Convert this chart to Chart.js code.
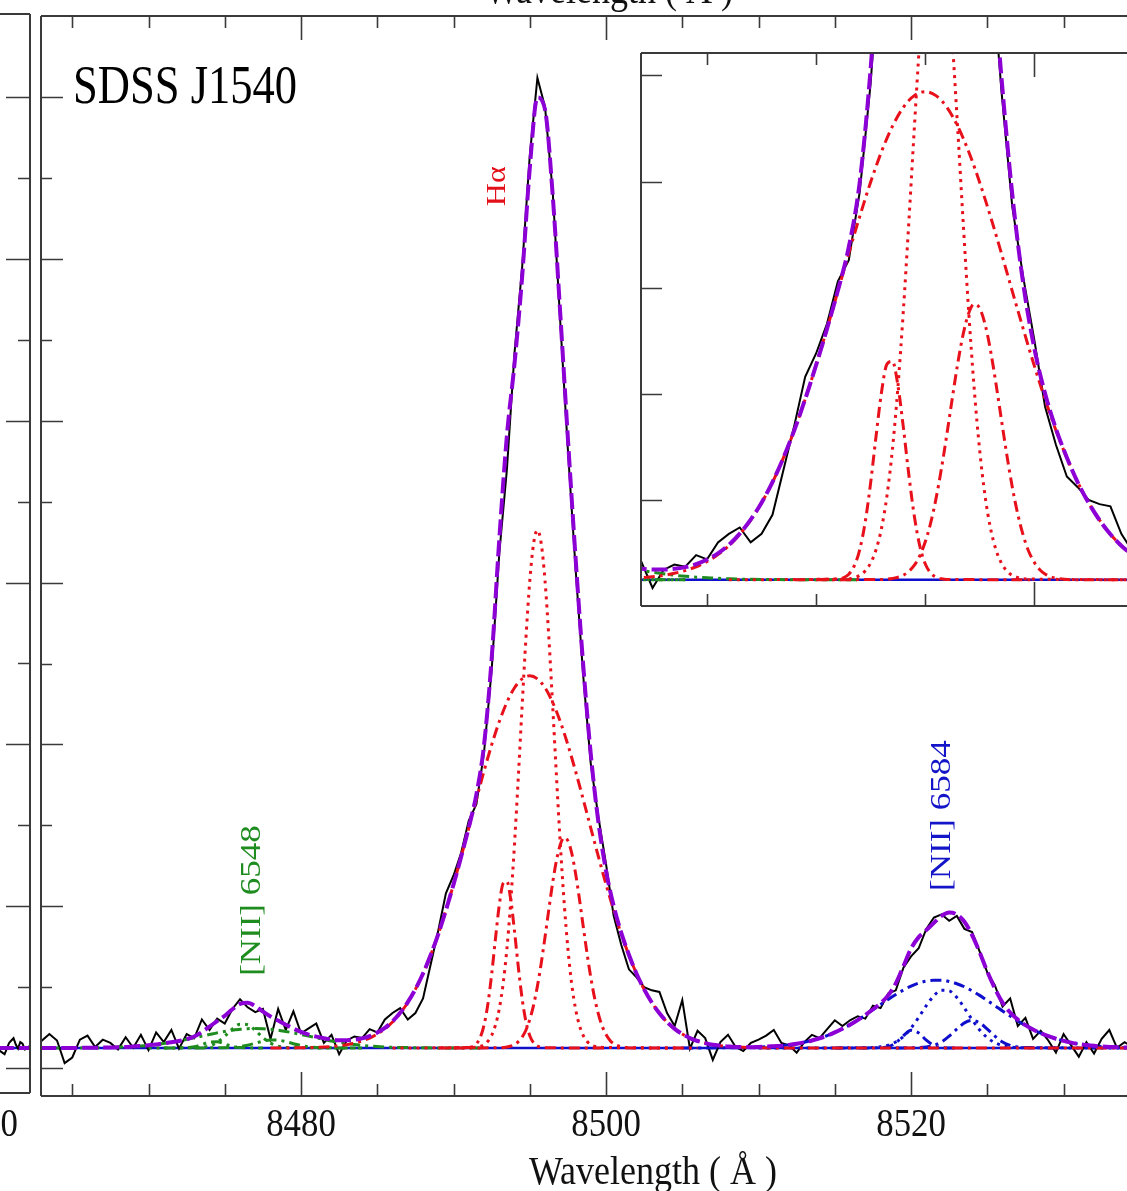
<!DOCTYPE html>
<html>
<head>
<meta charset="utf-8">
<script src="https://cdn.jsdelivr.net/npm/chart.js@4.4.1/dist/chart.umd.min.js"></script>
<style>
  html, body { margin: 0; padding: 0; background: #fff; }
  #wrap { position: relative; width: 1127px; height: 1191px; overflow: hidden; background: #fff; }
  canvas { position: absolute; }
  #side { left: -269px; top: 0; }
  #main { left: 0; top: 0; }
  #inset { left: 639px; top: 51px; background: #fff; }
</style>
</head>
<body>
<div id="wrap">
  <canvas id="side" width="300" height="1191"></canvas>
  <canvas id="main" width="1127" height="1191"></canvas>
  <canvas id="inset" width="488" height="557"></canvas>
</div>
<script>
// observed spectrum + total fit, same wavelength grid
var WAVE = [
  8462.9, 8463.5, 8464.0, 8464.5, 8465.0, 8465.5, 8466.0, 8466.5, 8467.0, 8467.5,
  8468.0, 8468.5, 8469.0, 8469.5, 8470.0, 8470.5, 8471.0, 8471.5, 8472.0, 8472.5,
  8473.0, 8473.5, 8474.0, 8474.5, 8475.0, 8475.5, 8476.0, 8476.5, 8477.0, 8477.5,
  8478.0, 8478.5, 8479.0, 8479.5, 8480.0, 8480.5, 8481.0, 8481.5, 8482.0, 8482.5,
  8483.0, 8483.5, 8484.0, 8484.5, 8485.0, 8485.5, 8486.0, 8486.5, 8487.0, 8487.5,
  8488.0, 8488.5, 8489.0, 8489.5, 8490.0, 8490.5, 8491.0, 8491.5, 8492.0, 8492.5,
  8493.0, 8493.5, 8494.0, 8494.5, 8495.0, 8495.5, 8496.0, 8496.5, 8497.0, 8497.5,
  8498.0, 8498.5, 8499.0, 8499.5, 8500.0, 8500.5, 8501.0, 8501.5, 8502.0, 8502.5,
  8503.0, 8503.5, 8504.0, 8504.5, 8505.0, 8505.5, 8506.0, 8506.5, 8507.0, 8507.5,
  8508.0, 8508.5, 8509.0, 8509.5, 8510.0, 8510.5, 8511.0, 8511.5, 8512.0, 8512.5,
  8513.0, 8513.5, 8514.0, 8514.5, 8515.0, 8515.5, 8516.0, 8516.5, 8517.0, 8517.5,
  8518.0, 8518.5, 8519.0, 8519.5, 8520.0, 8520.5, 8521.0, 8521.5, 8522.0, 8522.5,
  8523.0, 8523.5, 8524.0, 8524.5, 8525.0, 8525.5, 8526.0, 8526.5, 8527.0, 8527.5,
  8528.0, 8528.5, 8529.0, 8529.5, 8530.0, 8530.5, 8531.0, 8531.5, 8532.0, 8532.5,
  8533.0, 8533.5, 8534.0, 8534.5
];
var FLUX_OBS = [
  1.60, 2.10, 1.70, 0.30, 0.65, 1.75, 2.00, 1.30, 1.75, 1.55,
  1.15, 1.90, 1.25, 2.05, 1.10, 2.20, 1.60, 2.35, 1.20, 2.10,
  1.85, 3.00, 2.35, 3.05, 2.75, 3.65, 4.25, 3.75, 3.45, 3.65,
  1.80, 3.65, 2.35, 3.50, 2.15, 2.45, 2.75, 1.55, 2.05, 0.85,
  1.70, 1.95, 1.85, 2.40, 2.20, 3.00, 3.40, 3.70, 3.00, 3.40,
  4.30, 6.40, 8.50, 10.80, 11.90, 13.30, 15.30, 16.30, 19.50, 24.60,
  31.80, 37.00, 44.20, 49.50, 56.40, 61.20, 59.40, 54.20, 46.10, 38.20,
  30.90, 24.30, 18.80, 15.50, 12.60, 9.40, 7.60, 6.10, 5.60, 5.00,
  4.80, 4.70, 3.40, 2.60, 4.20, 1.20, 2.30, 1.85, 0.50, 1.60,
  2.05, 1.30, 1.05, 1.55, 1.75, 2.00, 2.35, 1.55, 1.40, 0.95,
  1.60, 2.05, 1.85, 2.40, 2.95, 2.60, 2.95, 3.20, 3.05, 3.85,
  3.70, 4.60, 4.80, 6.20, 6.90, 7.40, 8.60, 9.30, 9.50, 9.10,
  9.40, 8.60, 8.40, 7.20, 5.90, 5.10, 3.80, 4.30, 2.60, 3.10,
  1.80, 2.30, 1.70, 0.95, 2.10, 1.40, 0.70, 1.60, 0.90, 1.80,
  2.35, 1.25, 1.60, 1.30
];
var FLUX_MODEL = [
  1.24, 1.24, 1.24, 1.24, 1.24, 1.245, 1.25, 1.25, 1.26, 1.27,
  1.28, 1.30, 1.33, 1.36, 1.40, 1.45, 1.52, 1.59, 1.67, 1.78,
  1.95, 2.22, 2.56, 2.90, 3.23, 3.63, 3.96, 4.03, 3.82, 3.49,
  3.18, 2.93, 2.68, 2.44, 2.23, 2.06, 1.94, 1.84, 1.76, 1.72,
  1.72, 1.75, 1.83, 1.97, 2.19, 2.48, 2.88, 3.41, 4.07, 4.87,
  5.84, 6.98, 8.28, 9.75, 11.35, 13.06, 14.87, 16.92, 19.96, 25.30,
  32.67, 39.08, 43.54, 48.92, 55.62, 59.99, 59.23, 53.98, 46.60, 38.90,
  31.57, 24.94, 19.39, 15.19, 12.19, 10.02, 8.35, 7.00, 5.83, 4.86,
  4.05, 3.38, 2.84, 2.42, 2.10, 1.85, 1.67, 1.54, 1.44, 1.38,
  1.33, 1.30, 1.30, 1.29, 1.30, 1.32, 1.35, 1.38, 1.43, 1.50,
  1.59, 1.70, 1.84, 2.00, 2.20, 2.43, 2.68, 2.96, 3.28, 3.63,
  4.00, 4.49, 5.23, 6.29, 7.38, 8.09, 8.52, 8.97, 9.40, 9.61,
  9.49, 9.04, 8.22, 7.15, 5.96, 4.91, 4.04, 3.43, 2.99, 2.65,
  2.38, 2.16, 1.97, 1.81, 1.68, 1.57, 1.48, 1.42, 1.37, 1.33,
  1.30, 1.29, 1.27, 1.26
];
var BASE_WAVE = [8462.9, 8534.5];
var BASE_FLUX = [1.24, 1.24];

// Halpha components
var HA_BROAD_WAVE = [8478.0, 8480.0, 8481.0, 8482.0, 8483.0, 8483.5, 8484.0, 8484.5, 8485.0, 8485.5,
  8486.0, 8486.5, 8487.0, 8487.5, 8488.0, 8488.5, 8489.0, 8489.5, 8490.0, 8490.5,
  8491.0, 8491.5, 8492.0, 8492.5, 8493.0, 8493.5, 8494.0, 8494.5, 8495.0, 8495.5,
  8496.0, 8496.5, 8497.0, 8497.5, 8498.0, 8498.5, 8499.0, 8499.5, 8500.0, 8500.5,
  8501.0, 8501.5, 8502.0, 8502.5, 8503.0, 8503.5, 8504.0, 8504.5, 8505.0, 8505.5,
  8506.0, 8507.0, 8508.0, 8509.0, 8510.0, 8512.0, 8534.5];
var HA_BROAD_FLUX = [1.24, 1.25, 1.28, 1.33, 1.44, 1.54, 1.67, 1.85, 2.10, 2.42,
  2.84, 3.38, 4.05, 4.86, 5.83, 6.98, 8.28, 9.75, 11.35, 13.06,
  14.83, 16.62, 18.35, 19.97, 21.41, 22.60, 23.50, 24.05, 24.24, 24.05,
  23.50, 22.60, 21.41, 19.97, 18.35, 16.62, 14.83, 13.06, 11.35, 9.75,
  8.28, 6.98, 5.83, 4.86, 4.05, 3.38, 2.84, 2.42, 2.10, 1.85,
  1.67, 1.44, 1.33, 1.28, 1.25, 1.24, 1.24];
var HA_NARROW_WAVE = [8486.0, 8491.5, 8491.75, 8492.0, 8492.25, 8492.5, 8492.75, 8493.0, 8493.25, 8493.5,
  8493.75, 8494.0, 8494.25, 8494.5, 8494.75, 8495.0, 8495.25, 8495.5, 8495.75, 8496.0,
  8496.25, 8496.5, 8496.75, 8497.0, 8497.25, 8497.5, 8497.75, 8498.0, 8498.25, 8498.5,
  8498.75, 8499.0, 8499.25, 8499.5, 8505.0];
var HA_NARROW_FLUX = [1.24, 1.28, 1.34, 1.44, 1.65, 2.02, 2.65, 3.66, 5.19, 7.37,
  10.27, 13.87, 18.02, 22.41, 26.60, 30.10, 32.42, 33.24, 32.42, 30.10,
  26.60, 22.41, 18.02, 13.87, 10.27, 7.37, 5.19, 3.66, 2.65, 2.02,
  1.65, 1.44, 1.34, 1.28, 1.24];
var HA_BLUE_WAVE = [8489.0, 8491.0, 8491.25, 8491.5, 8491.75, 8492.0, 8492.25, 8492.5, 8492.75, 8493.0,
  8493.25, 8493.5, 8493.75, 8494.0, 8494.25, 8494.5, 8494.75, 8495.0, 8495.25, 8495.5,
  8495.75, 8496.0, 8500.0];
var HA_BLUE_FLUX = [1.24, 1.27, 1.33, 1.50, 1.89, 2.65, 3.94, 5.79, 8.00, 10.07,
  11.40, 11.53, 10.42, 8.44, 6.22, 4.27, 2.86, 2.00, 1.56, 1.36,
  1.28, 1.25, 1.24];
var HA_RED_WAVE = [8490.0, 8493.0, 8493.5, 8494.0, 8494.25, 8494.5, 8494.75, 8495.0, 8495.25, 8495.5,
  8495.75, 8496.0, 8496.25, 8496.5, 8496.75, 8497.0, 8497.25, 8497.5, 8497.75, 8498.0,
  8498.25, 8498.5, 8498.75, 8499.0, 8499.25, 8499.5, 8499.75, 8500.0, 8500.25, 8500.5,
  8501.0, 8502.0, 8506.0];
var HA_RED_FLUX = [1.24, 1.25, 1.30, 1.45, 1.63, 1.91, 2.35, 3.00, 3.89, 5.06,
  6.48, 8.10, 9.81, 11.45, 12.83, 13.80, 14.23, 14.04, 13.28, 12.04,
  10.48, 8.78, 7.11, 5.60, 4.33, 3.33, 2.58, 2.07, 1.72, 1.51,
  1.31, 1.24, 1.24];

// [NII] 6548 components
var N48_BROAD_WAVE = [8462.9, 8465.0, 8466.0, 8467.0, 8468.0, 8469.0, 8469.5, 8470.0, 8470.5, 8471.0,
  8471.5, 8472.0, 8472.5, 8473.0, 8473.5, 8474.0, 8474.5, 8475.0, 8475.5, 8476.0,
  8476.5, 8477.0, 8477.5, 8478.0, 8478.5, 8479.0, 8479.5, 8480.0, 8480.5, 8481.0,
  8481.5, 8482.0, 8482.5, 8483.0, 8483.5, 8484.0, 8484.5, 8485.0, 8486.0, 8487.0,
  8488.0, 8489.0, 8492.0];
var N48_BROAD_FLUX = [1.24, 1.24, 1.25, 1.26, 1.28, 1.33, 1.36, 1.40, 1.45, 1.52,
  1.59, 1.67, 1.77, 1.87, 1.97, 2.07, 2.17, 2.26, 2.34, 2.39,
  2.43, 2.44, 2.43, 2.39, 2.34, 2.26, 2.17, 2.07, 1.97, 1.87,
  1.77, 1.67, 1.59, 1.52, 1.45, 1.40, 1.36, 1.33, 1.28, 1.26,
  1.25, 1.24, 1.24];
var N48_NARROW_WAVE = [8470.0, 8473.0, 8473.5, 8474.0, 8474.5, 8475.0, 8475.5, 8476.0, 8476.5, 8477.0,
  8477.5, 8478.0, 8478.5, 8479.0, 8479.5, 8484.0];
var N48_NARROW_FLUX = [1.24, 1.25, 1.28, 1.37, 1.59, 1.97, 2.41, 2.71, 2.67, 2.33,
  1.88, 1.54, 1.35, 1.27, 1.25, 1.24];
var N48_BLUE_WAVE = [8471.0, 8472.5, 8473.0, 8473.5, 8474.0, 8474.5, 8475.0, 8475.5, 8476.0, 8477.5];
var N48_BLUE_FLUX = [1.24, 1.25, 1.31, 1.45, 1.60, 1.62, 1.48, 1.33, 1.26, 1.24];
var N48_RED_WAVE = [8473.0, 8475.5, 8476.0, 8476.5, 8477.0, 8477.5, 8478.0, 8478.5, 8479.0, 8479.5,
  8480.0, 8480.5, 8481.0, 8481.5, 8484.0];
var N48_RED_FLUX = [1.24, 1.27, 1.32, 1.41, 1.53, 1.66, 1.73, 1.72, 1.63, 1.50,
  1.39, 1.31, 1.27, 1.25, 1.24];

// [NII] 6584 components
var N84_BROAD_WAVE = [8505.0, 8509.0, 8510.0, 8510.5, 8511.0, 8511.5, 8512.0, 8512.5, 8513.0, 8513.5,
  8514.0, 8514.5, 8515.0, 8515.5, 8516.0, 8516.5, 8517.0, 8517.5, 8518.0, 8518.5,
  8519.0, 8519.5, 8520.0, 8520.5, 8521.0, 8521.5, 8522.0, 8522.5, 8523.0, 8523.5,
  8524.0, 8524.5, 8525.0, 8525.5, 8526.0, 8526.5, 8527.0, 8527.5, 8528.0, 8528.5,
  8529.0, 8529.5, 8530.0, 8530.5, 8531.0, 8531.5, 8532.0, 8532.5, 8533.0, 8534.0,
  8534.5];
var N84_BROAD_FLUX = [1.24, 1.26, 1.29, 1.31, 1.34, 1.38, 1.43, 1.50, 1.59, 1.70,
  1.84, 2.00, 2.20, 2.43, 2.68, 2.96, 3.27, 3.60, 3.92, 4.24,
  4.54, 4.82, 5.06, 5.25, 5.37, 5.43, 5.43, 5.35, 5.21, 5.02,
  4.77, 4.49, 4.17, 3.86, 3.52, 3.21, 2.91, 2.63, 2.38, 2.16,
  1.97, 1.81, 1.68, 1.57, 1.48, 1.42, 1.37, 1.33, 1.30, 1.27,
  1.26];
var N84_NARROW_WAVE = [8510.0, 8517.0, 8517.5, 8518.0, 8518.5, 8519.0, 8519.5, 8520.0, 8520.5, 8521.0,
  8521.5, 8522.0, 8522.5, 8523.0, 8523.5, 8524.0, 8524.5, 8525.0, 8525.5, 8526.0,
  8526.5, 8527.0, 8534.5];
var N84_NARROW_FLUX = [1.24, 1.25, 1.27, 1.31, 1.41, 1.61, 1.95, 2.47, 3.13, 3.85,
  4.47, 4.81, 4.77, 4.36, 3.71, 2.99, 2.35, 1.87, 1.56, 1.39,
  1.30, 1.26, 1.24];
var N84_BLUE_WAVE = [8515.0, 8518.0, 8518.5, 8519.0, 8519.5, 8520.0, 8520.5, 8521.0, 8521.5, 8522.0, 8523.0];
var N84_BLUE_FLUX = [1.24, 1.25, 1.32, 1.56, 2.00, 2.33, 2.17, 1.72, 1.39, 1.27, 1.24];
var N84_RED_WAVE = [8519.0, 8520.5, 8521.0, 8521.5, 8522.0, 8522.5, 8523.0, 8523.5, 8524.0, 8524.5,
  8525.0, 8525.5, 8526.0, 8526.5, 8527.0, 8527.5, 8530.0];
var N84_RED_FLUX = [1.24, 1.26, 1.30, 1.40, 1.61, 1.97, 2.40, 2.79, 2.94, 2.79,
  2.40, 1.97, 1.61, 1.40, 1.30, 1.26, 1.24];

// neighbouring panel on the left, only its right edge shows
var LEFT_WAVE = [8591.4, 8592.0, 8592.6, 8593.2, 8593.8, 8594.4, 8595.0, 8595.6, 8596.2, 8596.8,
  8597.4, 8598.0, 8598.6, 8599.2, 8599.8, 8600.0];
var LEFT_OBS = [1.30, 1.05, 0.95, 0.85, 1.20, 1.55, 1.70, 1.85, 1.45, 1.20,
  1.60, 1.50, 1.15, 1.20, 1.35, 1.30];
var LEFT_BASE_WAVE = [8591.4, 8600.0];
var LEFT_BASE_FLUX = [1.24, 1.24];

// ticks and labels
var X_MAJOR_TICKS = [8480, 8500, 8520];
var X_MINOR_TICKS = [8465, 8470, 8475, 8485, 8490, 8495, 8505, 8510, 8515, 8525, 8530];
var X_TICK_LABELS = ['8480', '8500', '8520'];
var Y_MAJOR_TICKS = [0, 10, 20, 30, 40, 50, 60];
var Y_MINOR_TICKS = [5, 15, 25, 35, 45, 55];
var INSET_X_MAJOR = [8500];
var INSET_X_MINOR = [8485, 8490, 8495];
var INSET_Y_TICKS = [5, 10, 15, 20, 25];

var LINE_LABELS = [
  { text: 'Hα', wave: 8492.9, flux: 54.5, color: '#e3101a', size: 32 },
  { text: '[NII] 6548', wave: 8476.8, flux: 10.35, color: '#1e8c1e', size: 35 },
  { text: '[NII] 6584', wave: 8522.0, flux: 15.6, color: '#1414c8', size: 35 }
];

var PURPLE = '#8c00d6';
var RED = '#e8101a';
var GREEN = '#1e8c1e';
var BLUE = '#1010cc';
var AXIS = '#3a3a3a';
var SERIF = '"Liberation Serif", "Times New Roman", serif';

function pts(w, f) {
  return w.map(function (x, i) { return { x: x, y: f[i] }; });
}

function line(w, f, color, width, dash, smooth) {
  return {
    data: pts(w, f),
    borderColor: color,
    borderWidth: width,
    borderDash: dash || [],
    pointRadius: 0,
    fill: false,
    tension: 0,
    cubicInterpolationMode: smooth ? 'monotone' : 'default',
    clip: 0
  };
}

var DOT = [3, 5];
var DASHDOT = [11, 5, 3, 5];

function fitDatasets() {
  return [
    line(WAVE, FLUX_MODEL, PURPLE, 4, [16, 5], true),
    line(HA_NARROW_WAVE, HA_NARROW_FLUX, RED, 3, DOT, true),
    line(HA_BROAD_WAVE, HA_BROAD_FLUX, RED, 3, DASHDOT, true),
    line(HA_BLUE_WAVE, HA_BLUE_FLUX, RED, 3, DASHDOT, true),
    line(HA_RED_WAVE, HA_RED_FLUX, RED, 3, DASHDOT, true),
    line(N48_NARROW_WAVE, N48_NARROW_FLUX, GREEN, 3, DOT, true),
    line(N48_BROAD_WAVE, N48_BROAD_FLUX, GREEN, 3, DASHDOT, true),
    line(N48_BLUE_WAVE, N48_BLUE_FLUX, GREEN, 3, DASHDOT, true),
    line(N48_RED_WAVE, N48_RED_FLUX, GREEN, 3, DASHDOT, true),
    line(N84_NARROW_WAVE, N84_NARROW_FLUX, BLUE, 3, DOT, true),
    line(N84_BROAD_WAVE, N84_BROAD_FLUX, BLUE, 3, DASHDOT, true),
    line(N84_BLUE_WAVE, N84_BLUE_FLUX, BLUE, 3, DASHDOT, true),
    line(N84_RED_WAVE, N84_RED_FLUX, BLUE, 3, DASHDOT, true),
    line(WAVE, FLUX_OBS, '#000', 2, [], false),
    line(BASE_WAVE, BASE_FLUX, BLUE, 2.5, [], false)
  ];
}

function ticks(list, len) {
  return list.map(function (v) { return { v: v, len: len }; });
}

// frame + inward ticks, drawn from the chart's own scales
function framePlugin(o) {
  return {
    id: 'frame',
    afterDatasetsDraw: function (chart) {
      var ctx = chart.ctx, a = chart.chartArea, x = chart.scales.x, y = chart.scales.y;
      ctx.save();
      ctx.strokeStyle = AXIS;
      ctx.lineWidth = 2;
      ctx.beginPath();
      o.sides.forEach(function (s) {
        if (s === 'left') { ctx.moveTo(a.left, a.top); ctx.lineTo(a.left, a.bottom); }
        if (s === 'right') { ctx.moveTo(a.right, a.top); ctx.lineTo(a.right, a.bottom); }
        if (s === 'top') { ctx.moveTo(a.left, a.top); ctx.lineTo(a.right, a.top); }
        if (s === 'bottom') { ctx.moveTo(a.left, a.bottom); ctx.lineTo(a.right, a.bottom); }
      });
      ctx.stroke();
      ctx.lineWidth = 1.6;
      ctx.beginPath();
      (o.xTicks || []).forEach(function (t) {
        var px = Math.round(x.getPixelForValue(t.v)) + 0.5;
        ctx.moveTo(px, a.bottom); ctx.lineTo(px, a.bottom - t.len);
        ctx.moveTo(px, a.top); ctx.lineTo(px, a.top + t.len);
      });
      (o.yTicks || []).forEach(function (t) {
        var py = Math.round(y.getPixelForValue(t.v)) + 0.5;
        if (o.ySide === 'right') { ctx.moveTo(a.right, py); ctx.lineTo(a.right - t.len, py); }
        else { ctx.moveTo(a.left, py); ctx.lineTo(a.left + t.len, py); }
      });
      ctx.stroke();
      ctx.restore();
    }
  };
}

function text(ctx, str, x, y, font, color, align, sx, rot) {
  ctx.save();
  ctx.translate(x, y);
  ctx.scale(sx, 1);
  if (rot) ctx.rotate(rot);
  ctx.font = font;
  ctx.fillStyle = color;
  ctx.textAlign = align;
  ctx.textBaseline = rot ? 'middle' : 'alphabetic';
  ctx.fillText(str, 0, 0);
  ctx.restore();
}

var textPlugin = {
  id: 'texts',
  afterDraw: function (chart) {
    var ctx = chart.ctx, x = chart.scales.x, y = chart.scales.y;
    X_MAJOR_TICKS.forEach(function (v, i) {
      text(ctx, X_TICK_LABELS[i], x.getPixelForValue(v), 1136, '40px ' + SERIF, '#111', 'center', 0.87);
    });
    text(ctx, '0', 18, 1136, '40px ' + SERIF, '#111', 'right', 0.87);
    text(ctx, 'Wavelength ( Å )', 653, 1184, '40px ' + SERIF, '#111', 'center', 0.9);
    text(ctx, 'Wavelength ( Å )', 609, 3, '40px ' + SERIF, '#111', 'center', 0.9);
    text(ctx, 'SDSS J1540', 73, 103, '55px ' + SERIF, '#000', 'left', 0.81);
    LINE_LABELS.forEach(function (l) {
      text(ctx, l.text, x.getPixelForValue(l.wave), y.getPixelForValue(l.flux),
        l.size + 'px ' + SERIF, l.color, 'center', 0.87, -Math.PI / 2);
    });
  }
};

var common = {
  responsive: false,
  animation: false,
  devicePixelRatio: 1,
  events: [],
  plugins: { legend: { display: false }, tooltip: { enabled: false } }
};

function opts(pad, xr, yr) {
  return Object.assign({}, common, {
    layout: { padding: pad },
    scales: {
      x: { type: 'linear', min: xr[0], max: xr[1], display: false },
      y: { type: 'linear', min: yr[0], max: yr[1], display: false }
    }
  });
}

// main panel
new Chart(document.getElementById('main'), {
  type: 'line',
  data: { datasets: fitDatasets() },
  options: opts({ left: 41, right: 0, top: 16, bottom: 95 }, [8462.95, 8534.16], [-1.73, 65.02]),
  plugins: [
    framePlugin({
      sides: ['left', 'top', 'bottom'],
      xTicks: ticks(X_MAJOR_TICKS, 24).concat(ticks(X_MINOR_TICKS, 12)),
      yTicks: ticks(Y_MAJOR_TICKS, 22).concat(ticks(Y_MINOR_TICKS, 11))
    }),
    textPlugin
  ]
});

// zoomed inset on Halpha
new Chart(document.getElementById('inset'), {
  type: 'line',
  data: { datasets: fitDatasets() },
  options: opts({ left: 2, right: 0, top: 2, bottom: 2 }, [8481.97, 8504.26], [0, 26.06]),
  plugins: [
    framePlugin({
      sides: ['left', 'top', 'bottom'],
      xTicks: ticks(INSET_X_MAJOR, 24).concat(ticks(INSET_X_MINOR, 12)),
      yTicks: ticks(INSET_Y_TICKS, 21)
    })
  ]
});

// cut-off neighbour panel
new Chart(document.getElementById('side'), {
  type: 'line',
  data: {
    datasets: [
      line(LEFT_BASE_WAVE, LEFT_BASE_FLUX, PURPLE, 4, [16, 5], false),
      line(LEFT_WAVE, LEFT_OBS, '#000', 2, [], false),
      line(LEFT_BASE_WAVE, LEFT_BASE_FLUX, BLUE, 2.5, [], false)
    ]
  },
  options: opts({ left: 0, right: 1, top: 14, bottom: 98 }, [8520, 8600], [-1.545, 65.14]),
  plugins: [
    framePlugin({
      sides: ['right', 'top', 'bottom'],
      ySide: 'right',
      yTicks: ticks(Y_MAJOR_TICKS, 24).concat(ticks(Y_MINOR_TICKS, 12))
    })
  ]
});
</script>
</body>
</html>
